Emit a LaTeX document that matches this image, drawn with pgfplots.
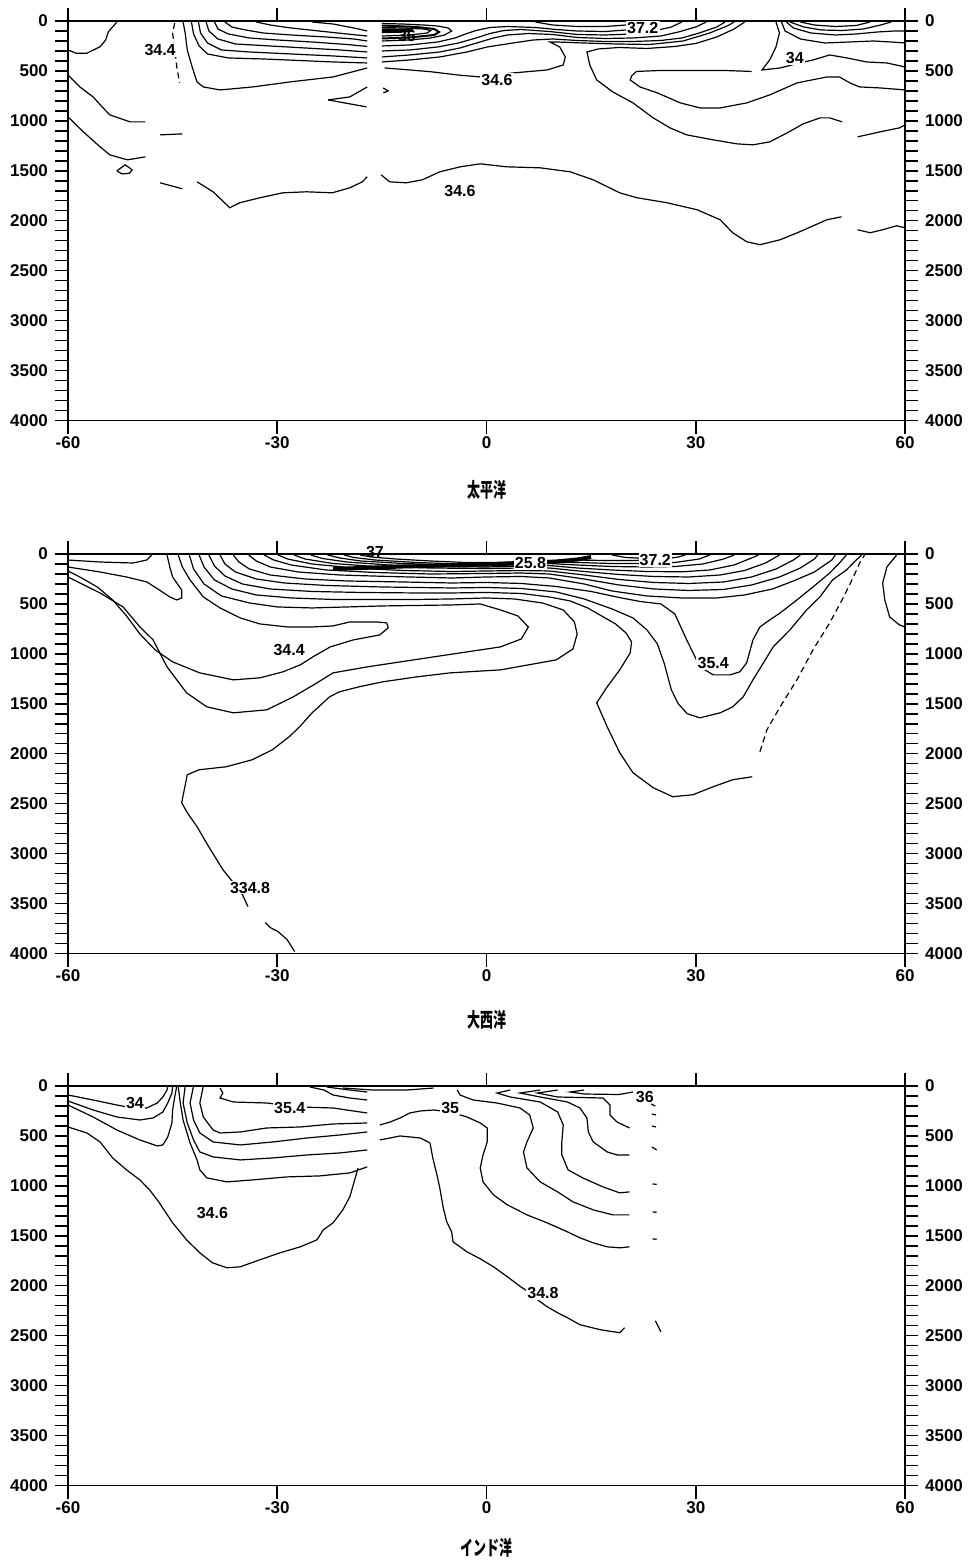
\documentclass[border=0pt]{standalone}
\usepackage{fontspec}
\setmainfont{Liberation Sans}
\newfontfamily\cjk{Noto Sans CJK JP}
\usepackage{pgfplots}
\pgfplotsset{compat=1.18}
\tikzset{
 clabel/.style={font=\fontsize{8}{9}\selectfont\bfseries, fill=white, inner sep=0.6pt},
 nlabel/.style={font=\fontsize{8}{9}\selectfont\bfseries, inner sep=0.6pt},
}
\pgfplotsset{
 panel/.style={
  width=418.5pt,height=199.75pt,scale only axis,
  xmin=-60,xmax=60,ymin=0,ymax=4000,y dir=reverse,
  xtick={-60,-30,0,30,60}, ytick={0,500,...,4000}, minor y tick num=4,
  tick align=outside, xtick pos=both, ytick pos=left, yticklabel pos=left,
  major tick length=6.5pt, minor tick length=6.5pt,
  tick style={black, line width=0.7pt},
  xtick style={black, line width=0.9pt},
  axis line style={line width=0.8pt},
  ticklabel style={font=\fontsize{8.5}{10}\selectfont\bfseries},
  xticklabel style={yshift=2pt},
  /pgf/number format/assume math mode=true,
  /pgf/number format/1000 sep={},
  clip=false,
  cycle list={{black,solid,mark=none}},
  every axis plot/.append style={black, line width=0.6pt, mark=none},
  xlabel style={font=\fontsize{10}{12}\selectfont\cjk\bfseries, anchor=center},
 },
 rpanel/.style={
  width=418.5pt,height=199.75pt,scale only axis,
  xmin=-60,xmax=60,ymin=0,ymax=4000,y dir=reverse,
  axis x line=none, axis y line*=right,
  ytick={0,500,...,4000}, minor y tick num=4,
  tick align=outside, ytick pos=right, yticklabel pos=right,
  major tick length=6.5pt, minor tick length=6.5pt,
  tick style={black, line width=0.7pt},
  axis line style={line width=0.8pt},
  ticklabel style={font=\fontsize{8.5}{10}\selectfont\bfseries},
  /pgf/number format/assume math mode=true,
  /pgf/number format/1000 sep={},
 },
}
\begin{document}
\begin{tikzpicture}
\useasboundingbox (0,0) rectangle (486pt,-780pt);
% ================= Panel 1 : Pacific =================
\begin{axis}[panel, at={(34pt,-10.5pt)}, anchor=north west,
  xlabel={\scalebox{0.65}[1]{太平洋}},
  xlabel style={at={(axis description cs:0.5,-0.174)}}]
% deep 34.6
\addplot coordinates {(-46.8,1620)(-43.6,1680)};
\addplot coordinates {(-41.5,1610)(-39.2,1710)(-36.8,1870)(-35.4,1820)(-32.5,1770)(-29.2,1720)(-25.8,1710)(-22.1,1720)(-19.6,1670)(-17.8,1610)(-17.1,1560)};
\addplot coordinates {(-15.1,1540)(-13.9,1610)(-11.5,1620)(-9.2,1590)(-6.7,1510)(-3.8,1460)(-0.9,1430)(2.9,1460)(7.7,1470)(12.0,1510)(15.3,1590)(19.1,1720)(21.6,1770)(25.9,1820)(30.2,1890)(33.5,1990)(35.3,2120)(37.3,2210)(39.2,2240)(42.1,2190)(44.9,2110)(48.8,1990)(50.9,1960)};
\addplot coordinates {(53.2,2090)(55.0,2120)(56.8,2090)(58.8,2050)(60,2070)};
% left side
\addplot coordinates {(-53,10)(-54.2,107)(-54.6,190)(-55.4,257)(-57.3,323)(-58.8,323)(-60,290)};
\addplot coordinates {(-60,540)(-58.3,660)(-56.4,760)(-55.1,860)(-54.0,940)(-51.1,1010)(-48.9,1010)};
\addplot coordinates {(-46.8,1140)(-43.6,1130)};
\addplot coordinates {(-60,960)(-57.8,1110)(-55.4,1260)(-54,1340)(-51.5,1390)(-48.9,1360)};
\addplot coordinates {(-53,1500)(-51.8,1440)(-50.8,1490)(-51.2,1525)(-52.3,1530)(-53,1500)};
% 34.4 dashed
\addplot[densely dashed] coordinates {(-44.7,20)(-45.0,120)(-44.7,290)(-44.4,460)(-44.0,620)};
% 34.6 upper
\addplot coordinates {(-43.5,10)(-43.2,120)(-42.9,290)(-42.2,460)(-41.5,610)(-40.6,660)(-38.2,690)(-33.5,660)(-28.2,610)(-22.0,560)(-17.1,470)};
\addplot coordinates {(-14.6,470)(-11.0,490)(-7.7,510)(-4.2,540)(-0.9,560)(3.8,520)(8.7,490)(11.0,440)(11.3,360)(10.5,260)(9.1,210)(10.1,210)(13.8,220)(18.7,230)(23.4,235)(28.2,200)(32,120)(34.5,50)(35.5,10)};
% U lines (left of gap)
\addplot coordinates {(-42.3,10)(-42,130)(-41.2,250)(-40,330)(-37,370)(-32,380)(-27,395)(-22,410)(-17.1,420)};
\addplot coordinates {(-41.3,10)(-41,120)(-40,220)(-38,290)(-34,310)(-28,330)(-22,350)(-17.1,370)};
\addplot coordinates {(-40.2,10)(-39.8,100)(-38.5,180)(-36,230)(-31,250)(-26,270)(-21,290)(-17.1,310)};
\addplot coordinates {(-39,10)(-38.5,80)(-37,130)(-34,170)(-30,190)(-25,210)(-20,235)(-17.1,255)};
\addplot coordinates {(-37.5,10)(-36.5,60)(-34.5,90)(-32,120)(-28,140)(-23,160)(-19,180)(-17.1,200)};
\addplot coordinates {(-33,10)(-31,40)(-28,70)(-24,100)(-20,130)(-17.1,150)};
\addplot coordinates {(-25,10)(-22,30)(-19,70)(-17.1,100)};
% wedge near gap
\addplot coordinates {(-22.7,790)(-19.6,760)(-17.1,660)};
\addplot coordinates {(-22.7,790)(-17.2,860)};
\addplot coordinates {(-14.8,670)(-14.1,700)(-14.8,720)};
% r lines (right of gap)
\addplot coordinates {(-15,410)(-11,390)(-6.7,360)(-2.8,310)(0.1,260)(3.8,220)(6.7,190)(9.5,180)(13,195)(17,205)(21,205)(25,195)(28,170)(30.5,120)(33,60)(34.2,10)};
\addplot coordinates {(-15,360)(-11,340)(-6.7,310)(-3.8,270)(-1.4,220)(1,170)(3,140)(6,125)(9.5,135)(13,165)(17,175)(21,170)(25,150)(27.5,110)(30,60)(31.5,10)};
\addplot coordinates {(-15,300)(-11,290)(-7,260)(-4,220)(-1.5,170)(0.5,125)(2.5,95)(5,85)(9,105)(13,135)(17,140)(21,130)(24,100)(26.5,60)(28,10)};
\addplot coordinates {(-15,250)(-11,240)(-7,210)(-4.5,170)(-3,130)(-1.5,95)(0.5,65)(3,55)(7,65)(10,85)(13,100)(17,105)(20,90)(22.5,60)(24,10)};
\addplot coordinates {(-15,200)(-11,190)(-8,170)(-6,140)(-5,100)(-5.5,70)(-7,50)(-9,40)(-12,30)(-15,25)};
\addplot coordinates {(-15,150)(-11,140)(-8.5,120)(-8,95)(-9,80)(-12,70)(-15,65)};
\addplot[line width=1.2pt] coordinates {(-15,110)(-12,105)(-10.5,95)(-12,88)(-15,85)};
\addplot[line width=1.0pt] coordinates {(-15,175)(-11,165)(-7.5,140)(-6.8,110)(-7.5,80)(-10,60)(-15,45)};
\addplot coordinates {(7,10)(9.5,40)(13,55)(17,55)(20,40)(21.5,10)};
% K line
\addplot coordinates {(37,10)(35.5,80)(33,160)(30,225)(27,255)(23,275)(19,265)(16,280)(14.4,310)(14.8,440)(15.8,590)(18.1,710)(21.0,820)(23.9,970)(26.3,1070)(28.7,1140)(32.5,1190)(35.9,1230)(38.2,1240)(40.6,1210)(43.1,1120)(45.4,1030)(47.8,970)(49.2,970)(51.0,1010)};
\addplot coordinates {(53.2,1160)(56.4,1110)(59.2,1070)(60,1040)};
% M line
\addplot coordinates {(38,505)(34,495)(30,495)(25,495)(21.5,505)(20.8,550)(20.6,590)(22.0,660)(24.5,720)(27.8,820)(30.6,870)(33.5,870)(37.3,820)(40.6,740)(44.5,620)(48.8,560)(50.6,560)(52.1,620)(53.5,660)(56.4,670)(60,690)};
% 34 line
\addplot coordinates {(41.5,10)(42,120)(41.5,260)(40.6,390)(39.5,490)(42.1,470)(44.9,420)(46.8,390)(49.2,340)(51.7,370)(54.5,410)(57.4,420)(60,460)};
% far-right surface lines
\addplot coordinates {(45,10)(47,40)(50,55)(53,45)(55,10)};
\addplot coordinates {(43.5,10)(45.5,60)(48,90)(51,95)(54,80)(56.5,40)(58,10)};
\addplot coordinates {(43,10)(44,70)(46.5,120)(50,140)(53,130)(56,110)(58.5,100)(60,100)};
\addplot coordinates {(42.3,10)(42.8,100)(45,180)(48.5,220)(52,210)(55.5,200)(58,210)(60,220)};
\node[clabel] at (axis cs:-46.8,290) {34.4};
\node[nlabel] at (axis cs:-11.4,150) {36};
\node[clabel] at (axis cs:22.4,70) {37.2};
\node[clabel] at (axis cs:1.5,590) {34.6};
\node[clabel] at (axis cs:44.2,370) {34};
\node[nlabel] at (axis cs:-3.8,1700) {34.6};
\end{axis}
\begin{axis}[rpanel, at={(34pt,-10.5pt)}, anchor=north west]
\end{axis}
% ================= Panel 2 : Atlantic =================
\begin{axis}[panel, at={(34pt,-277pt)}, anchor=north west,
  xlabel={\scalebox{0.65}[1]{大西洋}},
  xlabel style={at={(axis description cs:0.5,-0.166)}}]
\addplot coordinates {(-60,60)(-55.4,80)(-50.7,90)(-48.7,60)(-48,10)};
\addplot coordinates {(-60,130)(-55.4,180)(-51.6,230)(-48.7,280)(-46.9,360)(-45.4,430)(-44.4,460)(-43.7,440)(-43.7,360)(-45,230)(-45.4,130)(-45.8,10)};
% 34.4 tongue
\addplot coordinates {(-60,170)(-58.3,230)(-55.8,330)(-53.6,460)(-51.6,620)(-49.7,800)(-47.5,960)(-45,1080)(-41.1,1190)(-36.3,1260)(-32.5,1240)(-29.2,1180)(-26.7,1110)(-24.9,1030)(-22.4,930)(-19.1,860)(-15.3,810)(-14.1,740)(-14.3,690)(-15.7,680)(-19.6,680)(-22.0,720)(-24.9,730)(-28.6,730)(-32.5,700)(-35.3,640)(-38.2,540)(-40.6,430)(-42.5,260)(-43.6,130)(-44.2,10)};
% 1600 line
\addplot coordinates {(-60,230)(-58,300)(-55.4,390)(-52.1,530)(-49.7,730)(-47.8,860)(-45.8,1130)(-43.0,1390)(-40.1,1530)(-36.3,1590)(-31.5,1560)(-27.7,1430)(-24.3,1290)(-22.0,1190)(-17.1,1130)(-7.6,1030)(2.0,930)(5,850)(6,730)(4.5,620)(2,560)(-0.9,500)(-5,510)(-10,515)(-15,520)(-20,530)(-25,540)(-30,530)(-34,490)(-38,420)(-40.5,300)(-42,150)(-42.6,10)};
% 34.8 line (A1)
\addplot coordinates {(-41.2,10)(-40.5,130)(-39,260)(-36.5,350)(-33,410)(-28,440)(-22,455)(-15,455)(-10,455)(-5,450)(0,440)(4,450)(8,490)(11,560)(12.6,680)(13,800)(12.4,950)(10,1060)(6,1110)(2,1160)(-5.2,1190)(-10,1230)(-14.9,1280)(-18.3,1330)(-21.1,1380)(-22.5,1430)(-25,1590)(-26.8,1730)(-28.3,1830)(-30.7,1960)(-33.6,2060)(-37.3,2130)(-41.2,2160)(-42.9,2210)(-43.7,2490)(-42.9,2590)(-41.5,2730)(-40,2910)(-37.8,3160)(-36.3,3290)(-35,3410)(-34.2,3530)};
\addplot coordinates {(-31.7,3690)(-31,3740)(-29.9,3780)(-28.6,3860)(-27.5,3980)};
% G line (to 2400)
\addplot coordinates {(-39.8,10)(-39,120)(-37.5,220)(-35,300)(-31,350)(-25,375)(-18,385)(-10,390)(-5,390)(0,385)(5,395)(9,430)(12,470)(14.5,540)(16.5,620)(18.5,700)(20,790)(20.8,880)(20.6,990)(19.1,1160)(17.3,1330)(15.8,1490)(17.3,1730)(19.1,1990)(21.0,2190)(23.9,2340)(26.7,2430)(29.6,2410)(32.5,2330)(35.3,2260)(38.1,2230)};
% H line (outer U)
\addplot coordinates {(-38.2,10)(-37.5,100)(-36,180)(-33,250)(-29,290)(-23,315)(-15,330)(-5,340)(0,335)(5,345)(10,380)(14,450)(18,550)(21,640)(23,760)(24.5,900)(25.5,1100)(26.5,1360)(27.5,1500)(28.8,1600)(30.6,1640)(33.5,1590)(35.3,1530)(36.8,1430)(38.2,1260)(39.7,1090)(41.1,930)(43.5,760)(45.9,560)(47.8,430)(49.6,260)(51.6,160)(53,60)(53.8,10)};
% inner U (35.4)
\addplot coordinates {(-36.3,10)(-35.5,80)(-34,150)(-31,210)(-26,250)(-20,270)(-12,280)(-5,290)(0,285)(5,295)(10,325)(15,375)(19,435)(22,475)(25,500)(27,600)(28.7,860)(30.6,1130)(32.5,1210)(34.9,1210)(36.3,1180)(37.3,1090)(38.2,860)(39.2,730)(40.6,660)(42.1,590)(44.5,460)(46.8,330)(49.2,190)(50.6,90)(51.6,10)};
% V family
\addplot coordinates {(-34.1,10)(-33,70)(-31,130)(-27,180)(-21,210)(-14,225)(-5,240)(0,230)(5,225)(9,240)(14,300)(18,370)(23,420)(28,440)(33,440)(37,410)(41,350)(44,270)(47,180)(49.5,60)(50,10)};
\addplot coordinates {(-31.9,10)(-30.5,60)(-28,110)(-23,160)(-16,185)(-8,200)(0,195)(5,190)(9,200)(14,250)(19,310)(24,350)(29,365)(34,355)(38,310)(42,230)(45,140)(47,50)(47.5,10)};
\addplot coordinates {(-29.9,10)(-28.5,50)(-25,100)(-19,140)(-12,165)(-5,175)(0,170)(5,165)(9,170)(14,210)(19,255)(24,285)(29,295)(34,280)(38,230)(41.5,150)(44,60)(45,10)};
\addplot coordinates {(-27.6,10)(-26,50)(-22,95)(-16,125)(-8,140)(0,145)(5,140)(9,140)(14,175)(19,205)(24,225)(29,230)(33.5,210)(37,165)(40,90)(42,10)};
\addplot coordinates {(-25.2,10)(-23.5,45)(-20,80)(-14,110)(-6,125)(0,130)(5,120)(9,115)(13,140)(18,160)(23,175)(28,178)(32,160)(35.5,110)(38,40)(39,10)};
\addplot coordinates {(-22.8,10)(-21,40)(-18,70)(-12,95)(-5,110)(0,115)(5,105)(9,95)(13,110)(18,125)(23,130)(27,125)(31,100)(34,50)(35.5,10)};
\addplot coordinates {(-20.4,10)(-19,35)(-16,60)(-10,85)(-4,100)(0,100)(5,90)(9,80)(13,85)(18,95)(23,95)(27,85)(30.5,50)(32,10)};
\addplot coordinates {(-18.1,10)(-16.5,30)(-13,50)(-8,70)(-3,85)(1,85)(5,75)(9,65)(13,60)(17,65)(21,65)(25,55)(27.5,30)(28.5,10)};
\addplot coordinates {(18,10)(20,35)(23,45)(25.5,30)(26,10)};
% dense band
\addplot[line width=2pt] coordinates {(-22,150)(-18,140)(-12,125)(-6,115)(0,105)(6,90)(10,75)(13,55)(15,30)};
% dashed line right
\addplot[densely dashed] coordinates {(39.2,1980)(40.2,1760)(42.1,1530)(44.5,1260)(46.8,960)(49.2,690)(51.2,430)(52.6,230)(53.5,90)(54.2,10)};
% right-edge loop
\addplot coordinates {(58.8,10)(57.4,130)(56.8,290)(57.1,460)(57.8,630)(59.2,710)(60,730)};
\node[nlabel] at (axis cs:-16,-25) {37};
\node[clabel] at (axis cs:6.3,90) {25.8};
\node[clabel] at (axis cs:24.2,60) {37.2};
\node[clabel] at (axis cs:-28.3,960) {34.4};
\node[clabel] at (axis cs:32.5,1090) {35.4};
\node[clabel] at (axis cs:-33.9,3340) {334.8};
\end{axis}
\begin{axis}[rpanel, at={(34pt,-277pt)}, anchor=north west]
\end{axis}
% ================= Panel 3 : Indian =================
\begin{axis}[panel, at={(34pt,-543pt)}, anchor=north west,
  xlabel={\scalebox{0.65}[1]{インド洋}},
  xlabel style={at={(axis description cs:0.5,-0.155)}}]
\addplot coordinates {(-60,90)(-56.4,140)(-53,190)(-50.7,220)(-48.7,220)(-47.2,170)(-46.4,110)(-45.8,40)(-45.7,0)};
\addplot coordinates {(-60,150)(-56.4,240)(-53,310)(-49.7,340)(-47.8,320)(-46.4,260)(-45.7,170)(-45.1,70)(-45,0)};
\addplot coordinates {(-60,190)(-56.4,310)(-53,440)(-49.7,540)(-47.2,600)(-46.4,590)(-45.7,510)(-45.1,370)(-45.0,240)(-44.7,110)(-44.4,0)};
% 34.6 big U
\addplot coordinates {(-60,410)(-57.3,470)(-55.4,560)(-53.6,720)(-51.6,840)(-49.7,940)(-48.3,1040)(-46.9,1170)(-45,1370)(-43,1540)(-41.1,1670)(-39.3,1770)(-37.2,1820)(-35.3,1810)(-32.5,1740)(-29.6,1670)(-26.7,1610)(-24.3,1540)(-23.4,1440)(-22.0,1370)(-20.6,1240)(-19.6,1110)(-18.9,940)(-18.4,820)};
\addplot coordinates {(-44.2,0)(-43.9,170)(-43.5,340)(-42.5,570)(-41.5,740)(-41.1,840)(-40.1,920)(-37.2,960)(-33.5,940)(-28.6,910)(-23.9,900)(-19.6,870)(-17.1,810)};
\addplot coordinates {(-43.2,0)(-43.5,170)(-42.9,370)(-42.0,540)(-41.1,660)(-39.2,710)(-35.3,740)(-30.6,720)(-25.7,690)(-21.0,670)(-17.1,640)};
\addplot coordinates {(-42.0,0)(-42.5,170)(-42.0,340)(-41.1,470)(-39.2,560)(-35.3,590)(-30.6,560)(-25.7,520)(-21.0,490)(-17.1,460)};
\addplot coordinates {(-40.6,0)(-41.1,170)(-40.6,310)(-39.2,440)(-38.2,470)(-35.3,460)(-31.5,420)(-26.7,410)(-22.0,380)(-17.1,370)};
\addplot coordinates {(-38.2,20)(-37.8,70)(-38.2,120)(-36.3,160)(-31.5,170)(-26.7,210)(-22.0,220)(-18.1,260)(-17.1,270)};
\addplot coordinates {(-25.3,10)(-23.3,40)(-22,90)(-19.6,120)(-17.1,140)};
\addplot coordinates {(-22.9,10)(-19.6,40)(-17.1,60)};
\addplot coordinates {(-20.6,20)(-16.3,40)(-11.4,40)(-7.6,20)};
% right of gap
\addplot coordinates {(-15.3,540)(-13.8,520)(-12.4,500)(-11.0,510)(-9.5,520)(-8.1,570)(-7.7,720)(-7.1,890)(-6.7,1020)(-6.2,1220)(-5.7,1360)(-5.0,1460)(-4.8,1560)(-2.8,1660)(-0.9,1730)(1.0,1810)(3.0,1910)(4.9,2010)(6.0,2060)(7.3,2140)(8.7,2210)(10.2,2270)(11.6,2320)(13.4,2390)(16.3,2440)(19.1,2470)(19.8,2420)};
\addplot coordinates {(-15.3,390)(-13.8,360)(-12.4,320)(-11.0,270)(-9.5,250)(-7.6,240)(-5.2,260)(-2.8,310)(-0.9,370)(0.1,420)(0.1,560)(-0.5,690)(-0.9,820)(-0.5,960)(1.0,1090)(3.0,1190)(5.8,1290)(8.7,1370)(11.6,1460)(13.4,1520)(15.3,1570)(17.3,1610)(19.1,1620)(20.5,1610)};
\addplot coordinates {(-4.2,40)(-3.8,90)(-1.9,140)(1.5,170)(4.8,220)(6.2,290)(6.7,420)(5.8,560)(5.3,660)(5.8,820)(7.7,960)(10.2,1060)(12.4,1160)(15.3,1240)(18.1,1290)(20.5,1290)};
\addplot coordinates {(3.4,40)(1.5,70)(3.4,110)(7.7,160)(10.2,260)(11.0,390)(10.8,560)(10.8,690)(11.7,840)(13.8,920)(16.7,1010)(19.1,1070)(20.5,1060)};
\addplot coordinates {(7.7,40)(4.8,70)(7.7,110)(11.6,160)(13.4,220)(14.4,320)(14.6,460)(15.3,560)(17.3,660)(18.7,690)(20.5,690)};
\addplot coordinates {(10.2,40)(7.3,70)(10.2,110)(16.7,120)(17.7,190)(17.7,290)(18.7,360)(20.5,420)};
\addplot coordinates {(14,40)(12,60)(14,80)(19,85)(21,60)};
% small strokes
\addplot coordinates {(23.6,180)(24.2,200)};
\addplot coordinates {(23.7,280)(24.3,290)};
\addplot coordinates {(23.7,400)(24.3,410)};
\addplot coordinates {(23.7,610)(24.4,640)};
\addplot coordinates {(23.8,980)(24.4,985)};
\addplot coordinates {(23.8,1260)(24.4,1265)};
\addplot coordinates {(23.8,1530)(24.4,1535)};
\addplot coordinates {(24.2,2350)(25,2460)};
\node[clabel] at (axis cs:-50.4,170) {34};
\node[clabel] at (axis cs:-28.2,220) {35.4};
\node[clabel] at (axis cs:-5.2,220) {35};
\node[nlabel] at (axis cs:22.7,110) {36};
\node[nlabel] at (axis cs:-39.3,1270) {34.6};
\node[clabel] at (axis cs:8.1,2070) {34.8};
\end{axis}
\begin{axis}[rpanel, at={(34pt,-543pt)}, anchor=north west]
\end{axis}
\end{tikzpicture}
\end{document}
